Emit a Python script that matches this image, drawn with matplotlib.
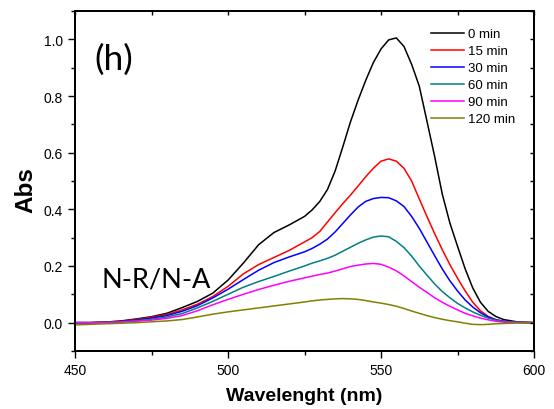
import matplotlib
matplotlib.use("Agg")
import matplotlib.pyplot as plt
from matplotlib.ticker import MultipleLocator
from matplotlib.patches import Rectangle

wavelength = [450, 455, 460, 465, 470, 475, 480, 485, 490, 495, 500, 505, 510, 515, 520, 525,
              527.5, 530, 532.5, 535, 537.5, 540, 542.5, 545, 547.5, 550, 552.5, 555, 557.5, 560,
              562.5, 565, 567.5, 570, 572.5, 575, 577.5, 580, 582.5, 585, 587.5, 590, 595, 600]

abs_0 = [0.000, 0.000, 0.002, 0.006, 0.013, 0.021, 0.033, 0.053, 0.075, 0.104, 0.150, 0.210, 0.275, 0.318, 0.345, 0.375,
         0.398, 0.428, 0.470, 0.535, 0.620, 0.708, 0.785, 0.855, 0.918, 0.966, 0.998, 1.005, 0.975, 0.912,
         0.835, 0.712, 0.588, 0.455, 0.352, 0.270, 0.190, 0.122, 0.072, 0.040, 0.022, 0.011, 0.002, 0.000]

abs_15 = [0.000, 0.000, 0.002, 0.005, 0.011, 0.019, 0.029, 0.045, 0.065, 0.092, 0.128, 0.172, 0.205, 0.230, 0.255, 0.285,
          0.300, 0.322, 0.355, 0.388, 0.420, 0.450, 0.482, 0.515, 0.545, 0.570, 0.578, 0.570, 0.545, 0.500,
          0.437, 0.375, 0.315, 0.258, 0.205, 0.157, 0.112, 0.072, 0.042, 0.022, 0.011, 0.004, 0.001, 0.000]

abs_30 = [0.000, 0.000, 0.001, 0.004, 0.009, 0.016, 0.025, 0.040, 0.060, 0.087, 0.118, 0.152, 0.185, 0.212, 0.232, 0.250,
          0.262, 0.277, 0.295, 0.320, 0.350, 0.380, 0.408, 0.428, 0.438, 0.442, 0.441, 0.430, 0.410, 0.375,
          0.333, 0.285, 0.237, 0.190, 0.148, 0.112, 0.080, 0.055, 0.035, 0.020, 0.010, 0.005, 0.001, 0.000]

abs_60 = [0.000, 0.000, 0.001, 0.003, 0.007, 0.012, 0.020, 0.032, 0.052, 0.075, 0.100, 0.125, 0.145, 0.163, 0.182, 0.200,
          0.210, 0.218, 0.227, 0.238, 0.252, 0.266, 0.280, 0.292, 0.302, 0.306, 0.303, 0.287, 0.265, 0.235,
          0.200, 0.168, 0.137, 0.110, 0.088, 0.068, 0.052, 0.038, 0.026, 0.016, 0.009, 0.004, 0.001, 0.000]

abs_90 = [0.000, 0.000, 0.000, 0.002, 0.005, 0.009, 0.015, 0.025, 0.042, 0.063, 0.082, 0.100, 0.117, 0.132, 0.146, 0.158,
          0.164, 0.170, 0.175, 0.182, 0.190, 0.198, 0.203, 0.207, 0.209, 0.206, 0.196, 0.183, 0.165, 0.145,
          0.125, 0.107, 0.088, 0.072, 0.058, 0.045, 0.033, 0.024, 0.016, 0.010, 0.005, 0.002, 0.000, 0.000]

abs_120 = [-0.008, -0.006, -0.004, -0.002, 0.000, 0.003, 0.006, 0.011, 0.020, 0.030, 0.038, 0.045, 0.052, 0.059, 0.066, 0.073,
           0.077, 0.080, 0.082, 0.084, 0.085, 0.084, 0.082, 0.078, 0.073, 0.069, 0.064, 0.058, 0.050, 0.041,
           0.033, 0.025, 0.018, 0.012, 0.007, 0.003, -0.002, -0.006, -0.007, -0.006, -0.004, -0.003, -0.001, 0.000]

labels = ["0 min", "15 min", "30 min", "60 min", "90 min", "120 min"]
colors = ["#000000", "#FF0000", "#0000FF", "#008080", "#FF00FF", "#808000"]
series = [abs_0, abs_15, abs_30, abs_60, abs_90, abs_120]

plt.rcdefaults()
plt.rcParams['font.family'] = ['Liberation Sans', 'DejaVu Sans']

fig = plt.figure(figsize=(5.54, 4.10), dpi=100)
ax = fig.add_axes([0.1354, 0.1415, 0.8285, 0.8292])

for y, c, l in zip(series, colors, labels):
    ax.plot(wavelength, y, color=c, lw=1.1, label=l)

ax.set_xlim(450, 600)
ax.set_ylim(-0.1, 1.1)
ax.xaxis.set_major_locator(MultipleLocator(50))
ax.xaxis.set_minor_locator(MultipleLocator(25))
ax.yaxis.set_minor_locator(MultipleLocator(0.1))
ax.set_yticks([0.0, 0.2, 0.4, 0.6, 0.8, 1.0])
ax.set_yticklabels(["0.0", "0.2", "0.4", "0.6", "0.8", "1.0"])

ax.tick_params(which='major', direction='out', length=5, width=1.0, labelsize=10,
               top=False, right=False)
ax.tick_params(which='minor', direction='out', length=3, width=1.0, top=False, right=False)

# inward ticks on top and right via twin axes
axt = ax.twiny()
axt.set_xlim(450, 600)
axt.xaxis.set_major_locator(MultipleLocator(50))
axt.xaxis.set_minor_locator(MultipleLocator(25))
axt.tick_params(axis='x', which='both', direction='in', length=3, width=1.0,
                top=True, bottom=False, labeltop=False, labelbottom=False)
axr = ax.twinx()
axr.set_ylim(-0.1, 1.1)
axr.yaxis.set_major_locator(MultipleLocator(0.2))
axr.yaxis.set_minor_locator(MultipleLocator(0.1))
axr.tick_params(axis='y', which='both', direction='in', length=3, width=1.0,
                right=True, left=False, labelright=False, labelleft=False)
for a in (ax, axt, axr):
    for s in a.spines.values():
        s.set_visible(True)
        s.set_linewidth(1.2)
        s.set_color('black')

# explicit frame around the plot area
ax.add_patch(Rectangle((0, 0), 1, 1, transform=ax.transAxes, fill=False,
                       edgecolor='black', linewidth=1.2, clip_on=False, zorder=10))

ax.set_xlabel("Wavelenght (nm)", fontsize=14, fontweight='bold', labelpad=7)
ax.set_ylabel("Abs", fontsize=17.5, fontweight='bold')
ax.yaxis.set_label_coords(-0.083, 0.476)

ax.text(0.043, 0.86, "(h)", transform=ax.transAxes, fontsize=25.5, family='Lato',
        va='center', ha='left')
ax.text(0.058, 0.212, "N-R/N-A", transform=ax.transAxes, fontsize=19.5, family='Lato',
        va='center', ha='left')

leg = ax.legend(loc='upper left', bbox_to_anchor=(0.775, 0.95), frameon=False, fontsize=9.5,
                handlelength=2.5, handletextpad=0.3, labelspacing=0.36, borderpad=0,
                borderaxespad=0)

fig.savefig("out.png", dpi=100)
